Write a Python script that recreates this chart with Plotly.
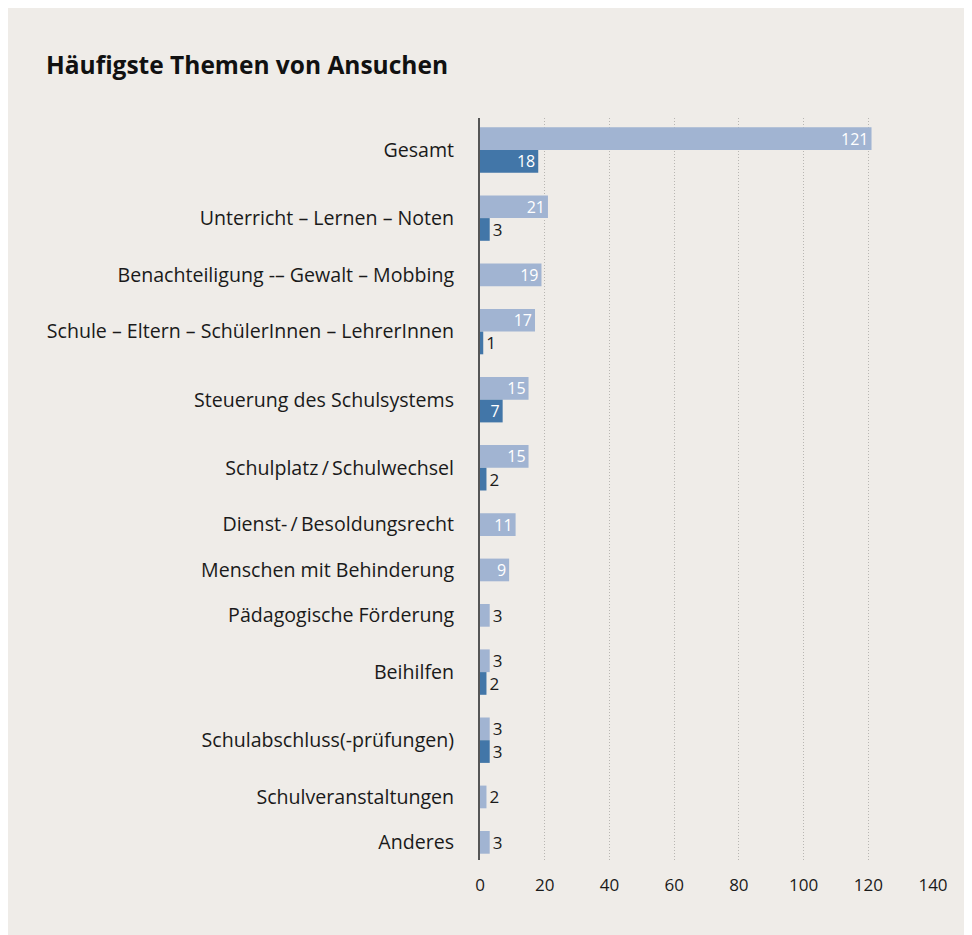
import plotly.graph_objects as go

categories = [
    "Gesamt",
    "Unterricht – Lernen – Noten",
    "Benachteiligung -– Gewalt – Mobbing",
    "Schule – Eltern – SchülerInnen – LehrerInnen",
    "Steuerung des Schulsystems",
    "Schulplatz\u2009/\u2009Schulwechsel",
    "Dienst-\u2009/\u2009Besoldungsrecht",
    "Menschen mit Behinderung",
    "Pädagogische Förderung",
    "Beihilfen",
    "Schulabschluss(-prüfungen)",
    "Schulveranstaltungen",
    "Anderes",
]
series_a = [121, 21, 19, 17, 15, 15, 11, 9, 3, 3, 3, 2, 3]
series_b = [18, 3, None, 1, 7, 2, None, None, None, 2, 3, None, None]
x_ticks = [0, 20, 40, 60, 80, 100, 120, 140]

LIGHT = "#a1b4d2"
DARK = "#4276a8"
BG = "#efece8"
FONT = "Open Sans, Lato, sans-serif"

W, H = 972, 935
ML, MR, MT, MB = 472, 47, 110, 83

# layout of category slots (in pixel-like units along y)
BAR = 22.7
GAP = 22.7
centers = []
pos = 0.0
for b in series_b:
    n = 1 if b is None else 2
    slot = n * BAR + GAP
    centers.append(pos + slot / 2)
    pos += slot

y_a, y_b, xb = [], [], []
for c, b in zip(centers, series_b):
    if b is None:
        y_a.append(c)
    else:
        y_a.append(c - BAR / 2)
        y_b.append(c + BAR / 2)
        xb.append(b)

THRESH = 5
pos_a = ["inside" if v >= THRESH else "outside" for v in series_a]
pos_b = ["inside" if v >= THRESH else "outside" for v in xb]

common = dict(
    orientation="h", width=BAR, textangle=0, insidetextanchor="end",
    constraintext="none",
    insidetextfont=dict(color="white", size=16, family=FONT),
    outsidetextfont=dict(color="#1a1a1a", size=17, family=FONT),
    cliponaxis=False, hoverinfo="x",
)

fig = go.Figure()
fig.add_trace(go.Bar(
    x=series_a, y=y_a, marker=dict(color=LIGHT, line=dict(width=0)),
    text=[str(v) for v in series_a], textposition=pos_a, name="A", **common,
))
fig.add_trace(go.Bar(
    x=xb, y=y_b, marker=dict(color=DARK, line=dict(width=0)),
    text=[str(v) for v in xb], textposition=pos_b, name="B", **common,
))

plot_h = H - MT - MB
top = centers[0] - 32
fig.update_layout(
    width=W, height=H,
    margin=dict(l=ML, r=MR, t=MT, b=MB, pad=0),
    paper_bgcolor=BG, plot_bgcolor=BG,
    barmode="overlay", showlegend=False,
    font=dict(family=FONT, color="#1a1a1a", size=16),
    title=dict(text="<b>Häufigste Themen von Ansuchen</b>", x=38 / W, xanchor="left",
               y=1 - 57 / H, yanchor="middle",
               font=dict(size=24.5, family=FONT, color="#111")),
    xaxis=dict(range=[0, 140], tickvals=x_ticks, ticktext=[str(t) for t in x_ticks],
               showgrid=True, gridcolor="#b8b6b2", griddash="1px,2px", gridwidth=1,
               zeroline=False, showline=False,
               ticks="outside", ticklen=10, tickcolor="rgba(0,0,0,0)",
               tickfont=dict(size=17, family=FONT, color="#1a1a1a"), fixedrange=True),
    yaxis=dict(range=[top + plot_h, top], tickvals=centers, ticktext=categories,
               showgrid=False, zeroline=False, showline=True, linecolor="#555555",
               linewidth=2, ticks="outside", ticklen=20, tickcolor="rgba(0,0,0,0)",
               tickfont=dict(size=19.6, family=FONT, color="#1a1a1a"), fixedrange=True),
)

fig.write_html("out.html")
